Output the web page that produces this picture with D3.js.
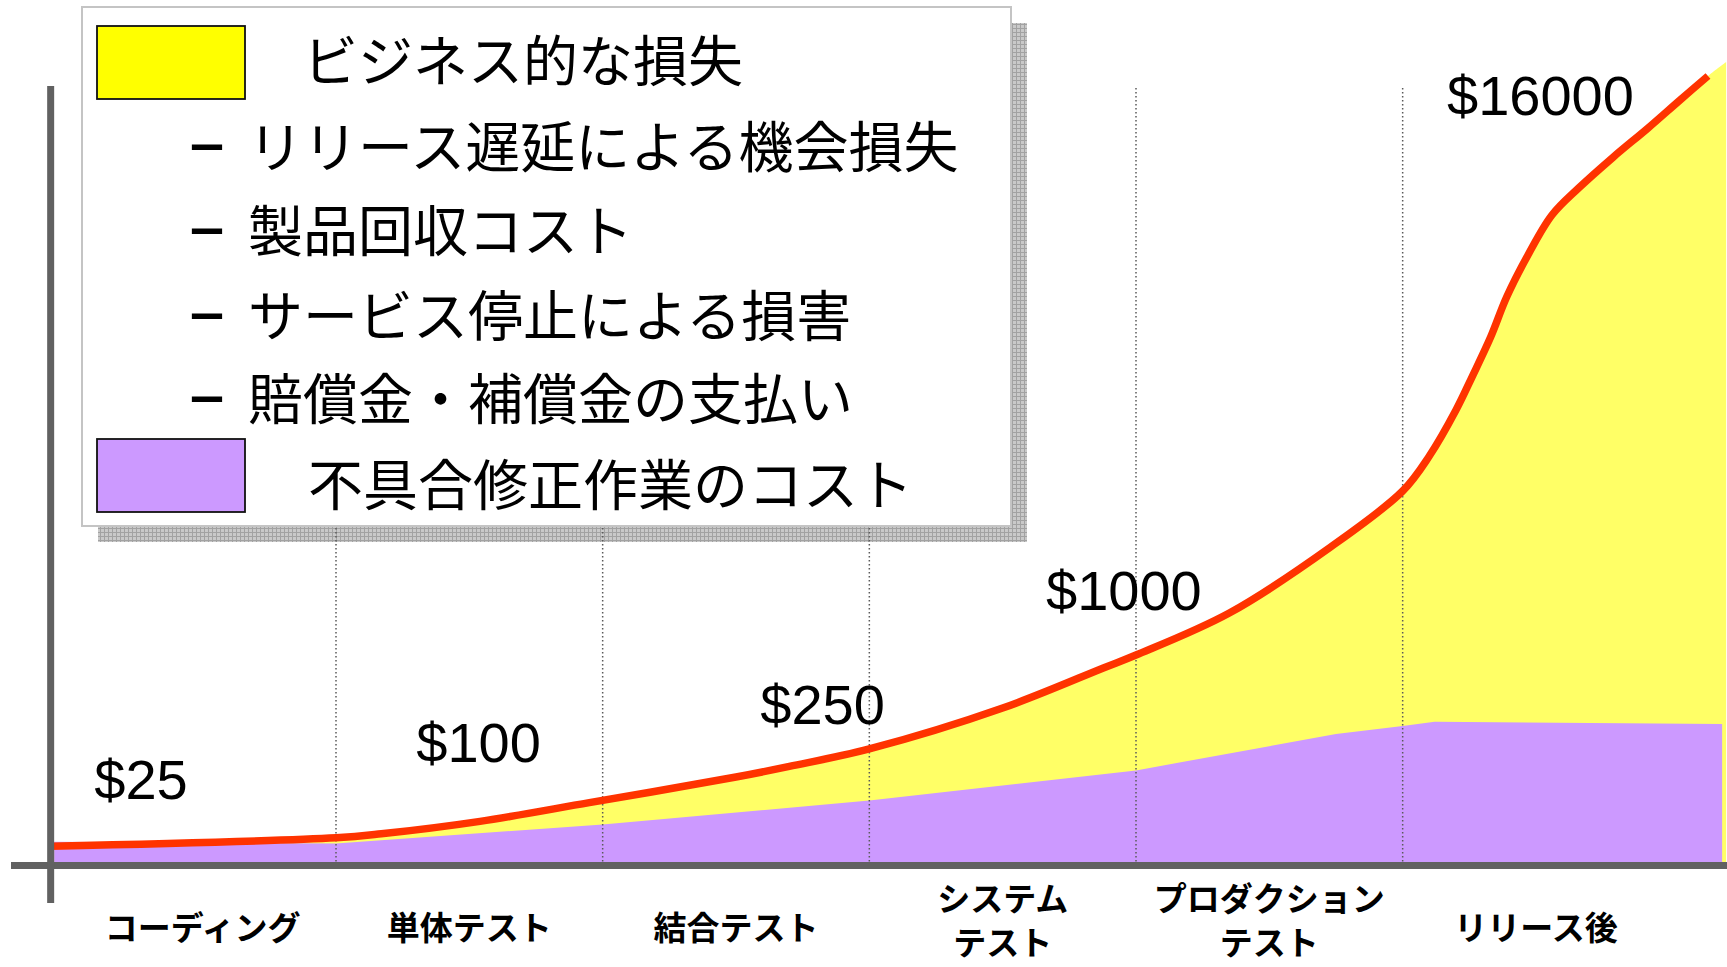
<!DOCTYPE html>
<html>
<head>
<meta charset="utf-8">
<script src="https://cdn.jsdelivr.net/npm/d3@7"></script>
<style>
  html, body { margin: 0; padding: 0; background: #ffffff; overflow: hidden; }
  svg { display: block; }
</style>
</head>
<body>
<svg id="chart" width="1727" height="967"></svg>
<script>
// Development stages along the horizontal axis (two-line names split into lines)
const stageLabels = [["コーディング"], ["単体テスト"], ["結合テスト"], ["システム", "テスト"], ["プロダクション", "テスト"], ["リリース後"]];

// Total cost of one defect (fix work + business loss), sampled along the stage axis (stage units)
const totalStage = [-0.07, 1.0, 1.17, 1.54, 1.95, 2.5, 2.7, 3.0, 3.5, 3.88, 4.0, 4.35, 4.73, 5.0, 5.1, 5.2, 5.26, 5.33, 5.39, 5.47, 5.56, 5.66, 5.79, 5.92, 6.04, 6.145];
const totalCost  = [9, 19, 25, 49, 100, 199, 250, 346, 633, 1000, 1133, 1632, 2599, 3595, 4299, 5320, 6120, 7164, 8291, 9563, 10858, 11779, 12882, 13958, 15039, 16000];

// Cost of the defect-fixing work alone
const fixStage = [-0.057, 1.0, 2.0, 3.0, 4.0, 4.75, 5.0, 5.12, 6.198];
const fixCost  = [14, 12, 42, 107, 230, 441, 497, 528, 511];

// Business-loss band closes at the right edge here
const lossEdgeStage = 6.213;
const lossEdgeCost = 16570;

// Costs called out in text on the chart
const calloutCosts = [25, 100, 250, 1000, 16000];

// Legend entries
const legendTitles = ["ビジネス的な損失", "不具合修正作業のコスト"];
const lossItems = ["リリース遅延による機会損失", "製品回収コスト", "サービス停止による損害", "賠償金・補償金の支払い"];

// ---------------------------------------------------------------------------
const W = 1727, H = 967;
const svg = d3.select("#chart");
svg.append("rect").attr("width", W).attr("height", H).attr("fill", "#ffffff");

const x = d3.scaleLinear().domain([0, 6]).range([69.33, 1669.33]);
const y = d3.scaleSqrt().domain([0, 16000]).range([865, 76]);

const total = totalStage.map((s, i) => ({ s, v: totalCost[i] }));
const fix = fixStage.map((s, i) => ({ s, v: fixCost[i] }));
const lossBand = total.concat([{ s: lossEdgeStage, v: lossEdgeCost }]);

const smooth = d3.curveCatmullRom.alpha(0.5);
const CJK = "'Noto Sans CJK JP', 'Noto Sans CJK SC', sans-serif";
const LATIN = "'Liberation Sans', Arial, Helvetica, sans-serif";

// Hatched drop-shadow pattern for the legend panel
const defs = svg.append("defs");
const pat = defs.append("pattern")
  .attr("id", "hatch").attr("patternUnits", "userSpaceOnUse")
  .attr("width", 4).attr("height", 4);
pat.append("rect").attr("width", 4).attr("height", 4).attr("fill", "#c9c9c9");
pat.append("path").attr("d", "M0,0.5H4M0.5,0V4")
  .attr("stroke", "#a2a2a2").attr("stroke-width", 1);

const box = { x: 82, y: 7, w: 929, h: 519, shadow: 16 };
svg.append("rect")
  .attr("x", box.x + box.shadow).attr("y", box.y + box.shadow)
  .attr("width", box.w).attr("height", box.h)
  .attr("fill", "url(#hatch)");

// Business loss: everything under the total-cost curve
svg.append("path").datum(lossBand)
  .attr("fill", "#ffff66")
  .attr("d", d3.area().x(d => x(d.s)).y0(y(0)).y1(d => y(d.v)).curve(smooth));

// Fix-work cost drawn over it
svg.append("path").datum(fix)
  .attr("fill", "#cc99ff")
  .attr("d", d3.area().x(d => x(d.s)).y0(y(0)).y1(d => y(d.v)).curve(d3.curveLinear));

// Dotted stage dividers
svg.append("g").selectAll("line")
  .data(d3.range(1, stageLabels.length))
  .join("line")
  .attr("x1", d => x(d)).attr("x2", d => x(d))
  .attr("y1", 88).attr("y2", y(0))
  .attr("stroke", "#5a5a5a").attr("stroke-width", 1.5)
  .attr("stroke-dasharray", "1.5,2.5");

// Total-cost curve
svg.append("path").datum(total)
  .attr("fill", "none")
  .attr("stroke", "#ff3300").attr("stroke-width", 7.5)
  .attr("stroke-linejoin", "round")
  .attr("d", d3.line().x(d => x(d.s)).y(d => y(d.v)).curve(smooth));

// Legend panel
svg.append("rect")
  .attr("x", box.x).attr("y", box.y).attr("width", box.w).attr("height", box.h)
  .attr("fill", "#ffffff").attr("stroke", "#c4c4c4").attr("stroke-width", 2);

const lg = svg.append("g").attr("font-family", CJK).attr("fill", "#000");
const swatch = (cy, color) => lg.append("rect")
  .attr("x", 97).attr("y", cy - 36.5).attr("width", 148).attr("height", 73)
  .attr("fill", color).attr("stroke", "#111").attr("stroke-width", 1.8);
swatch(62.5, "#ffff00");
swatch(475.5, "#cc99ff");

const rowY = [57, 142.6, 227.4, 311.7, 395.4, 481];
lg.append("text").attr("x", 303).attr("y", rowY[0])
  .attr("dominant-baseline", "central").attr("font-size", 55)
  .text(legendTitles[0]);
lossItems.forEach((t, i) => {
  lg.append("text").attr("x", 190).attr("y", rowY[i + 1])
    .attr("dominant-baseline", "central").attr("font-size", 55)
    .attr("font-family", LATIN).attr("font-weight", "bold")
    .attr("textLength", 34).attr("lengthAdjust", "spacingAndGlyphs")
    .text("–");
  lg.append("text").attr("x", 248).attr("y", rowY[i + 1])
    .attr("dominant-baseline", "central").attr("font-size", 55)
    .text(t);
});
lg.append("text").attr("x", 308).attr("y", rowY[5])
  .attr("dominant-baseline", "central").attr("font-size", 55)
  .text(legendTitles[1]);

// Cost call-outs, each anchored to its point on the total-cost curve
const calloutOffsets = [[-287, -35], [-173, -41], [-29, -42], [-58, -58], [-261, 39]];
svg.append("g").selectAll("text")
  .data(calloutCosts)
  .join("text")
  .attr("font-family", LATIN).attr("font-size", 56).attr("fill", "#000")
  .attr("x", (v, i) => x(totalStage[totalCost.indexOf(v)]) + calloutOffsets[i][0])
  .attr("y", (v, i) => y(v) + calloutOffsets[i][1])
  .text(v => "$" + v);

// Axes
const axisColor = "#616161";
svg.append("line")
  .attr("x1", 11).attr("x2", W).attr("y1", y(0) + 0.5).attr("y2", y(0) + 0.5)
  .attr("stroke", axisColor).attr("stroke-width", 7);
svg.append("line")
  .attr("x1", x(-0.07)).attr("x2", x(-0.07)).attr("y1", 86).attr("y2", 903)
  .attr("stroke", axisColor).attr("stroke-width", 7);

// Stage names under the axis (one text element per stage, lines as tspans)
svg.append("g")
  .attr("font-family", CJK).attr("font-weight", "bold")
  .attr("font-size", 33).attr("fill", "#000").attr("text-anchor", "middle")
  .selectAll("text")
  .data(stageLabels)
  .join("text")
  .attr("dominant-baseline", "central")
  .attr("y", d => d.length === 1 ? 926 : 897)
  .each(function (lines, i) {
    d3.select(this).selectAll("tspan")
      .data(lines)
      .join("tspan")
      .attr("x", x(i + 0.5))
      .attr("dy", (t, j) => j === 0 ? 0 : 44)
      .text(t => t);
  });
</script>
</body>
</html>
